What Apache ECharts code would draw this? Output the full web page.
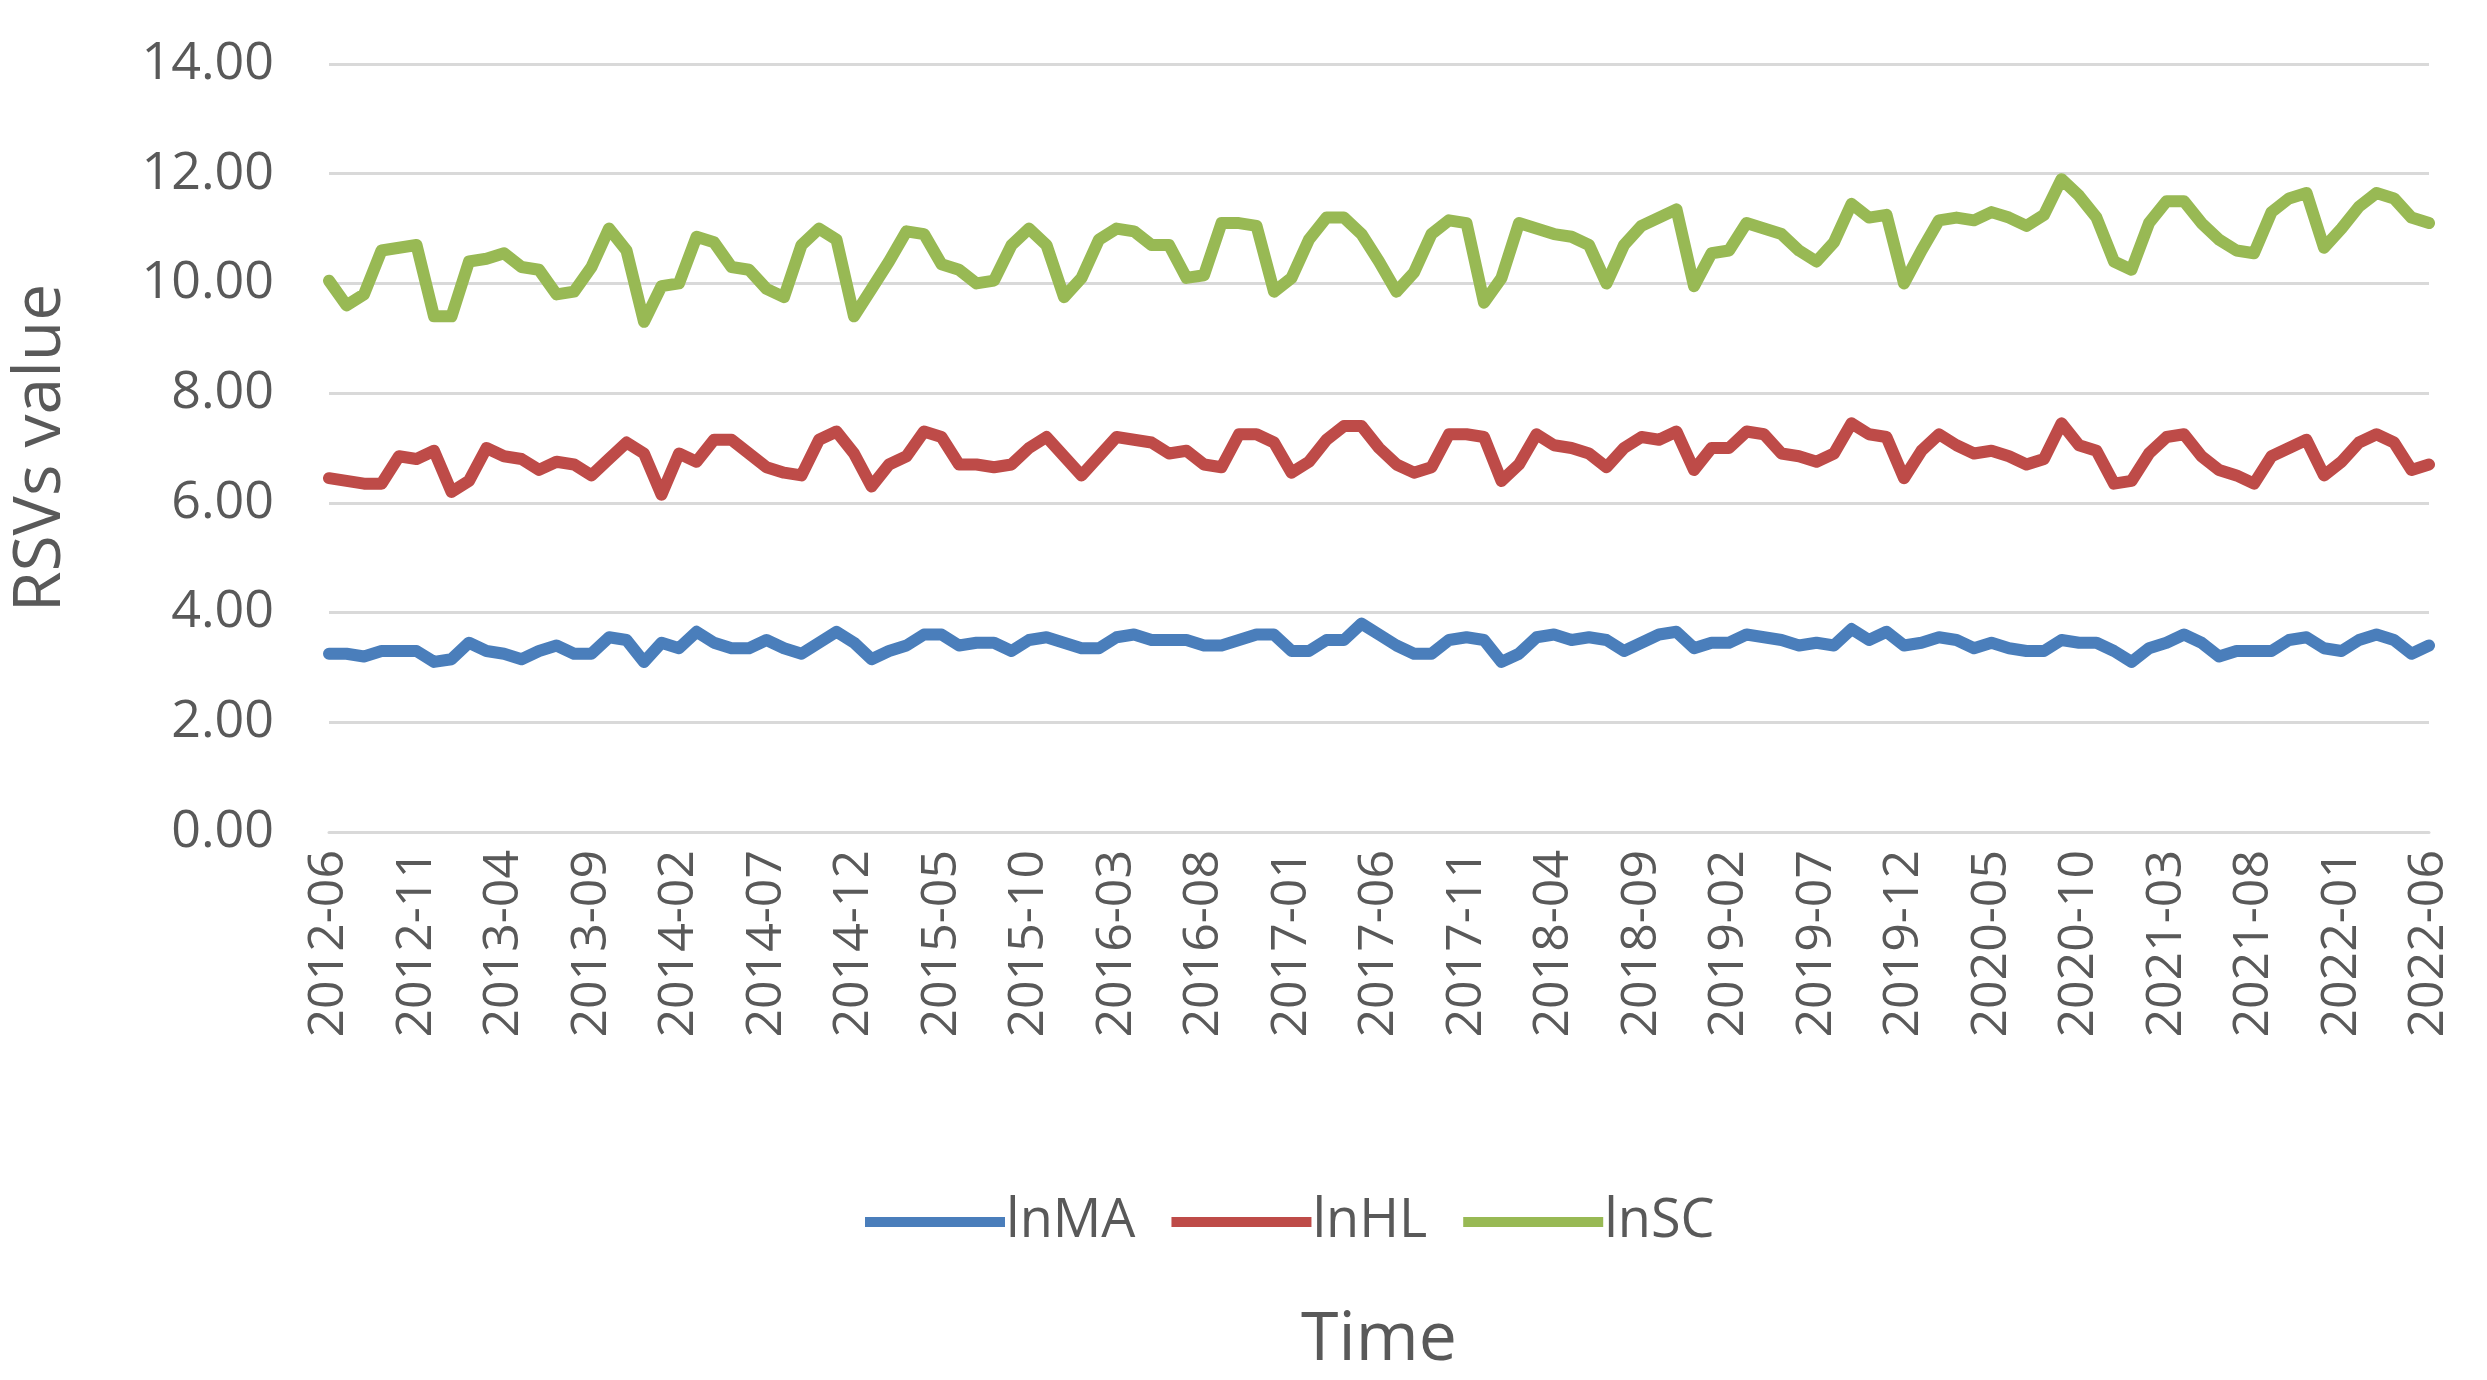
<!DOCTYPE html>
<html><head><meta charset="utf-8">
<script src="https://cdn.jsdelivr.net/npm/echarts@6/dist/echarts.min.js"></script>
<style>html,body{margin:0;padding:0;background:#fff}#c{width:2487px;height:1380px}</style>
</head><body><div id="c"></div>
<script>
const startYear = 2012, startMonth = 6, monthCount = 121;
const categories = [];
for (let k = 0; k < monthCount; k++) {
  const m = (startMonth - 1 + k) % 12 + 1, y = startYear + Math.floor((startMonth - 1 + k) / 12);
  categories.push(y + '-' + String(m).padStart(2, '0'));
}
const lnMA = [3.25,3.25,3.2,3.3,3.3,3.3,3.1,3.15,3.45,3.3,
3.25,3.15,3.3,3.4,3.25,3.25,3.55,3.5,3.1,3.45,
3.35,3.65,3.45,3.35,3.35,3.5,3.35,3.25,3.45,3.65,
3.45,3.15,3.3,3.4,3.6,3.6,3.4,3.45,3.45,3.3,
3.5,3.55,3.45,3.35,3.35,3.55,3.6,3.5,3.5,3.5,
3.4,3.4,3.5,3.6,3.6,3.3,3.3,3.5,3.5,3.8,
3.6,3.4,3.25,3.25,3.5,3.55,3.5,3.1,3.25,3.55,
3.6,3.5,3.55,3.5,3.3,3.45,3.6,3.65,3.35,3.45,
3.45,3.6,3.55,3.5,3.4,3.45,3.4,3.7,3.5,3.65,
3.4,3.45,3.55,3.5,3.35,3.45,3.35,3.3,3.3,3.5,
3.45,3.45,3.3,3.1,3.35,3.45,3.6,3.45,3.2,3.3,
3.3,3.3,3.5,3.55,3.35,3.3,3.5,3.6,3.5,3.25,3.4];
const lnHL = [6.45,6.4,6.35,6.35,6.85,6.8,6.95,6.2,6.4,7.0,
6.85,6.8,6.6,6.75,6.7,6.5,6.8,7.1,6.9,6.15,
6.9,6.75,7.15,7.15,6.9,6.65,6.55,6.5,7.15,7.3,
6.9,6.3,6.7,6.85,7.3,7.2,6.7,6.7,6.65,6.7,
7.0,7.2,6.85,6.5,6.85,7.2,7.15,7.1,6.9,6.95,
6.7,6.65,7.25,7.25,7.1,6.55,6.75,7.15,7.4,7.4,
7.0,6.7,6.55,6.65,7.25,7.25,7.2,6.4,6.7,7.25,
7.05,7.0,6.9,6.65,7.0,7.2,7.15,7.3,6.6,7.0,
7.0,7.3,7.25,6.9,6.85,6.75,6.9,7.45,7.25,7.2,
6.45,6.95,7.25,7.05,6.9,6.95,6.85,6.7,6.8,7.45,
7.05,6.95,6.35,6.4,6.9,7.2,7.25,6.85,6.6,6.5,
6.35,6.85,7.0,7.15,6.5,6.75,7.1,7.25,7.1,6.6,6.7];
const lnSC = [10.05,9.6,9.8,10.6,10.65,10.7,9.4,9.4,10.4,10.45,
10.55,10.3,10.25,9.8,9.85,10.3,11.0,10.6,9.3,9.95,
10.0,10.85,10.75,10.3,10.25,9.9,9.75,10.7,11.0,10.8,
9.4,9.9,10.4,10.95,10.9,10.35,10.25,10.0,10.05,10.7,
11.0,10.7,9.75,10.1,10.8,11.0,10.95,10.7,10.7,10.1,
10.15,11.1,11.1,11.05,9.85,10.1,10.8,11.2,11.2,10.9,
10.4,9.85,10.2,10.9,11.15,11.1,9.65,10.1,11.1,11.0,
10.9,10.85,10.7,10.0,10.7,11.05,11.2,11.35,9.95,10.55,
10.6,11.1,11.0,10.9,10.6,10.4,10.75,11.45,11.2,11.25,
10.0,10.6,11.15,11.2,11.15,11.3,11.2,11.05,11.25,11.9,
11.6,11.2,10.4,10.25,11.1,11.5,11.5,11.1,10.8,10.6,
10.55,11.3,11.55,11.65,10.65,11.0,11.4,11.65,11.55,11.2,11.1];
const seriesNames = ['lnMA','lnHL','lnSC'];
const colors = ['#4a7ebb','#be4b48','#98b954'];
const txt = '#595959';
const chart = echarts.init(document.getElementById('c'));
const mk = (name, data, i) => ({name, type:'line', data, symbol:'none', smooth:false,
  lineStyle:{width:12, color:colors[i], cap:'round', join:'round'}, itemStyle:{color:colors[i]}});
chart.setOption({
  animation:false,
  grid:{left:328, right:58, top:64, bottom:511},
  legend:{top:1190, left:860, itemWidth:140, itemHeight:10, itemGap:36, icon:'rect',
    textStyle:{color:txt, fontSize:54, fontFamily:'Open Sans', padding:[0,0,0,-4]}, data:seriesNames},
  xAxis:{type:'category', data:categories, boundaryGap:false, name:'Time', nameLocation:'middle', nameGap:475,
    nameTextStyle:{color:txt, fontSize:68, fontFamily:'Open Sans'},
    axisLine:{lineStyle:{color:'#d9d9d9', width:3}}, axisTick:{show:false},
    axisLabel:{interval:4, rotate:90, color:txt, fontSize:50, fontFamily:'Open Sans', margin:18}},
  yAxis:{type:'value', min:0, max:14, interval:2, name:'RSVs value', nameLocation:'middle', nameGap:255,
    nameTextStyle:{color:txt, fontSize:66, fontFamily:'Open Sans'},
    axisLine:{show:false}, axisTick:{show:false},
    axisLabel:{color:txt, fontSize:52, fontFamily:'Open Sans', margin:55, formatter:v=>v.toFixed(2)},
    splitLine:{lineStyle:{color:'#d9d9d9', width:3}}},
  series:[mk('lnMA',lnMA,0), mk('lnHL',lnHL,1), mk('lnSC',lnSC,2)]
});
</script></body></html>
